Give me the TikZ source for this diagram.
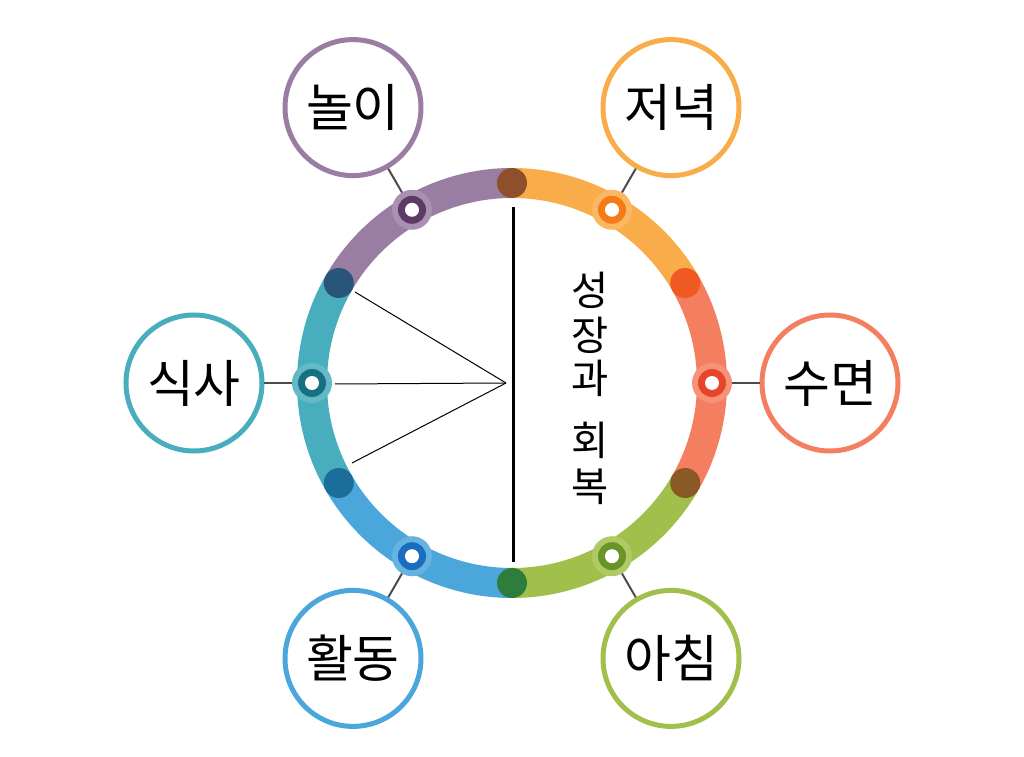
\documentclass[tikz,border=0pt]{standalone}
\usepackage{fontspec}
\newfontfamily\kor{Noto Sans CJK KR}
\definecolor{cOrange}{HTML}{F9AC4A}
\definecolor{cSalmon}{HTML}{F47F60}
\definecolor{cGreen}{HTML}{A0C04B}
\definecolor{cBlue}{HTML}{4BA6DC}
\definecolor{cTeal}{HTML}{48ADBC}
\definecolor{cPurple}{HTML}{997DA3}
\definecolor{dOrange}{HTML}{F57B17}
\definecolor{dSalmon}{HTML}{E8442A}
\definecolor{dGreen}{HTML}{6A9526}
\definecolor{dBlue}{HTML}{1A6CBF}
\definecolor{dTeal}{HTML}{176F82}
\definecolor{dPurple}{HTML}{5D3A66}
\definecolor{bTop}{HTML}{8E4F2A}
\definecolor{bOS}{HTML}{F05A22}
\definecolor{bSG}{HTML}{8A5A26}
\definecolor{bBot}{HTML}{2E7D3C}
\definecolor{bBT}{HTML}{1B6E9A}
\definecolor{bTP}{HTML}{2A557A}
\tikzset{
  seg/.style={line width=30*0.02cm},
  topic/.style={circle, draw=#1, line width=5*0.02cm, minimum size=136*0.02cm, inner sep=0pt, fill=white, font=\kor\fontsize{29}{34}\selectfont},
  link/.style={draw=black!70, line width=2*0.02cm},
  spoke/.style={draw=black, line width=1*0.02cm}
}
\begin{document}
\begin{tikzpicture}[x=0.02cm,y=0.02cm]
\useasboundingbox (-512,-374) rectangle (512,383);
% ring segments
\foreach \a/\c in {90/cOrange,30/cSalmon,-30/cGreen,-90/cBlue,-150/cTeal,150/cPurple}
  \draw[seg, \c] (\a:200) arc[start angle=\a, end angle=\a-60, radius=200];
% boundary dots
\foreach \a/\c in {90/bTop,30/bOS,-30/bSG,-90/bBot,-150/bBT,150/bTP}
  \fill[\c] (\a:200) circle[radius=15];
% topics and links
\foreach \a/\c/\d/\t/\n in {60/cOrange/dOrange/저녁/dinner, 0/cSalmon/dSalmon/수면/sleep, -60/cGreen/dGreen/아침/morning, -120/cBlue/dBlue/활동/activity, 180/cTeal/dTeal/식사/meal, 120/cPurple/dPurple/놀이/play}{
  \node[topic=\c] (\n) at (\a:318) {\t};
  \coordinate (\n-dot) at (\a:200);
  \draw[link] (\n-dot) -- (\n);
  \fill[\c!85!white] (\n-dot) circle[radius=20];
  \fill[\d] (\n-dot) circle[radius=14];
  \fill[white] (\n-dot) circle[radius=7];
}
% centre
\coordinate (hub) at (-6,0);
\draw[line width=3*0.02cm] (1,176) -- (1,-179);
\draw[spoke] (-157,91) -- (hub);
\draw[spoke] (-177,-1) -- (hub);
\draw[spoke] (-160,-80) -- (hub);
\foreach \y/\t [count=\i] in {93/성,48/장,5/과,-57/회,-104/복}
  \node[font=\kor\fontsize{23}{26}\selectfont] (title\i) at (78,\y) {\t};
\end{tikzpicture}
\end{document}
